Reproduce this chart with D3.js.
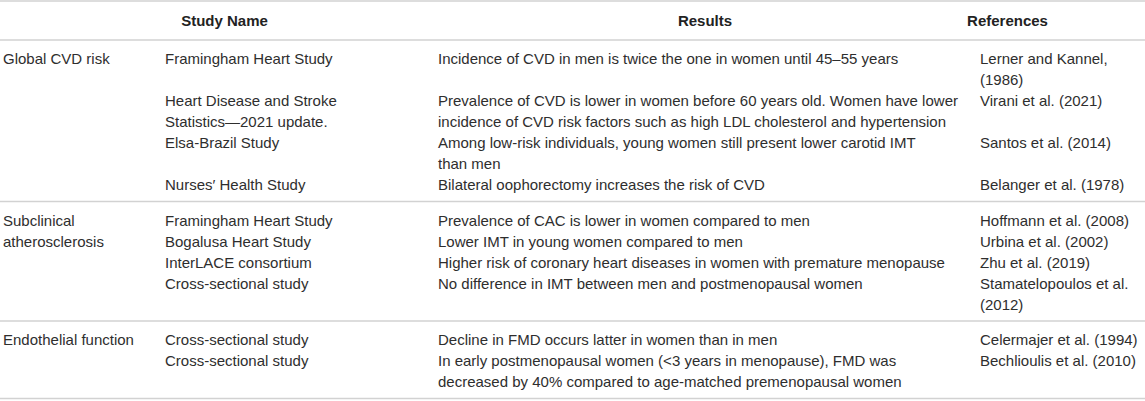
<!DOCTYPE html>
<html>
<head>
<meta charset="utf-8">
<script src="https://cdn.jsdelivr.net/npm/d3@7"></script>
<style>
  html, body { margin: 0; padding: 0; background: #fff; }
  svg text { font-family: "Liberation Sans", Arial, sans-serif; }
</style>
</head>
<body>
<div id="table"></div>
<script>
// table content, one entry per study row
const headers = ["", "Study Name", "Results", "References"];
const categories = [["Global CVD risk"], ["Subclinical", "atherosclerosis"], ["Endothelial function"]];
const rowSection = [0, 0, 0, 0, 1, 1, 1, 1, 2, 2];
const studyNames = [
  ["Framingham Heart Study"],
  ["Heart Disease and Stroke", "Statistics\u20142021 update."],
  ["Elsa-Brazil Study"],
  ["Nurses\u2032 Health Study"],
  ["Framingham Heart Study"],
  ["Bogalusa Heart Study"],
  ["InterLACE consortium"],
  ["Cross-sectional study"],
  ["Cross-sectional study"],
  ["Cross-sectional study"]
];
const results = [
  ["Incidence of CVD in men is twice the one in women until 45\u201355 years"],
  ["Prevalence of CVD is lower in women before 60 years old. Women have lower",
   "incidence of CVD risk factors such as high LDL cholesterol and hypertension"],
  ["Among low-risk individuals, young women still present lower carotid IMT", "than men"],
  ["Bilateral oophorectomy increases the risk of CVD"],
  ["Prevalence of CAC is lower in women compared to men"],
  ["Lower IMT in young women compared to men"],
  ["Higher risk of coronary heart diseases in women with premature menopause"],
  ["No difference in IMT between men and postmenopausal women"],
  ["Decline in FMD occurs latter in women than in men"],
  ["In early postmenopausal women (<3 years in menopause), FMD was",
   "decreased by 40% compared to age-matched premenopausal women"]
];
const references = [
  ["Lerner and Kannel,", "(1986)"],
  ["Virani et al. (2021)"],
  ["Santos et al. (2014)"],
  ["Belanger et al. (1978)"],
  ["Hoffmann et al. (2008)"],
  ["Urbina et al. (2002)"],
  ["Zhu et al. (2019)"],
  ["Stamatelopoulos et al.", "(2012)"],
  ["Celermajer et al. (1994)"],
  ["Bechlioulis et al. (2010)"]
];

const width = 1145, height = 401;
const lineH = 21, padTop = 19, padBottom = 16.5;
const headerRule = 40;

const svg = d3.select("#table").append("svg")
  .attr("width", width).attr("height", height);

// column positions
const colX = d3.scaleOrdinal().domain([0, 1, 2, 3]).range([3, 165, 438, 980]);
const headX = d3.scaleOrdinal().domain([0, 1, 2, 3]).range([0, 224.5, 705, 1007.5]);

// row tops from line counts
const rowLines = studyNames.map((s, i) => Math.max(s.length, results[i].length, references[i].length));
let y = headerRule;
const rowTop = [];
const sectionTop = [], sectionBottom = [];
rowLines.forEach((n, i) => {
  const sec = rowSection[i];
  if (i === 0 || rowSection[i - 1] !== sec) {
    sectionTop[sec] = y;
    y += padTop;
  }
  rowTop.push(y);
  y += n * lineH;
  if (i === rowLines.length - 1 || rowSection[i + 1] !== sec) {
    // last line centre + bottom padding
    y = y - lineH + padBottom;
    sectionBottom[sec] = y;
  }
});

// rules
const rules = [1, headerRule].concat(sectionBottom);
svg.selectAll("line.rule")
  .data(rules)
  .enter().append("line")
  .attr("class", "rule")
  .attr("x1", 0).attr("x2", width)
  .attr("y1", d => d).attr("y2", d => d)
  .attr("stroke", "#d2d2d2")
  .attr("stroke-width", 1.6);

// header
svg.selectAll("text.head")
  .data(headers)
  .enter().append("text")
  .attr("class", "head")
  .attr("x", (d, i) => headX(i))
  .attr("y", 21)
  .attr("dy", "0.35em")
  .attr("text-anchor", "middle")
  .attr("font-size", 15)
  .attr("font-weight", "bold")
  .attr("fill", "#222")
  .text(d => d);

function drawCell(lines, x, top, cls) {
  svg.append("g").attr("class", cls)
    .selectAll("text")
    .data(lines)
    .enter().append("text")
    .attr("x", x)
    .attr("y", (d, k) => top + k * lineH)
    .attr("dy", "0.35em")
    .attr("font-size", 15)
    .attr("fill", "#2e2e2e")
    .text(d => d);
}

categories.forEach((c, s) => drawCell(c, colX(0), sectionTop[s] + padTop, "category"));
studyNames.forEach((d, i) => {
  drawCell(d, colX(1), rowTop[i], "study");
  drawCell(results[i], colX(2), rowTop[i], "result");
  drawCell(references[i], colX(3), rowTop[i], "reference");
});
</script>
</body>
</html>
